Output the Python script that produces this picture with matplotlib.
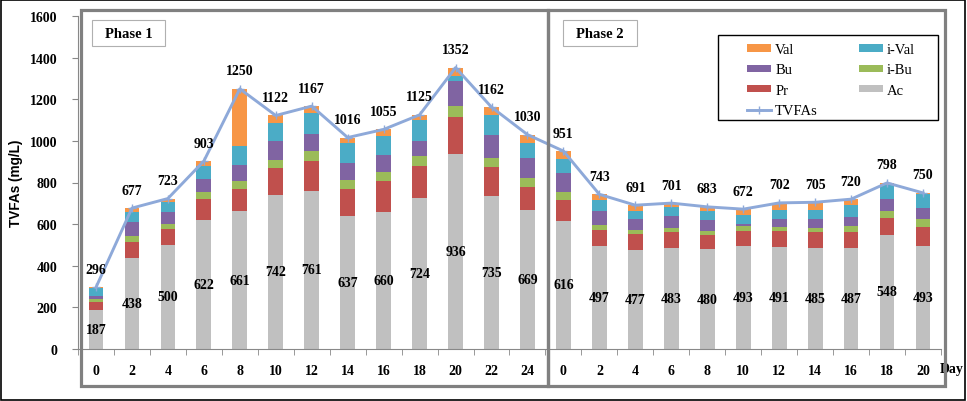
import matplotlib
matplotlib.use("Agg")
import matplotlib.pyplot as plt
import matplotlib.patches as patches
import numpy as np

# === DATA ===
phase1_days = [0, 2, 4, 6, 8, 10, 12, 14, 16, 18, 20, 22, 24]
phase2_days = [0, 2, 4, 6, 8, 10, 12, 14, 16, 18, 20]

ac = [187, 438, 500, 622, 661, 742, 761, 637, 660, 724, 936, 735, 669,
      616, 497, 477, 483, 480, 493, 491, 485, 487, 548, 493]
pr = [37, 77, 77, 98, 110, 127, 140, 131, 148, 156, 179, 140, 110,
      101, 77, 75, 77, 70, 75, 77, 78, 76, 81, 94]
ibu = [14, 29, 24, 32, 37, 40, 48, 43, 43, 45, 53, 45, 42,
       38, 22, 21, 19, 18, 21, 19, 19, 29, 35, 37]
bu = [16, 67, 56, 64, 75, 91, 86, 85, 80, 72, 120, 109, 96,
      93, 69, 54, 58, 53, 10, 40, 45, 40, 56, 53]
ival = [37, 45, 48, 64, 90, 85, 101, 93, 93, 104, 24, 94, 75,
        67, 51, 37, 43, 43, 45, 42, 42, 61, 67, 67]
val = [5, 21, 18, 23, 277, 37, 31, 27, 31, 24, 40, 39, 38,
       36, 27, 27, 21, 19, 28, 33, 36, 27, 11, 6]
tvfas = [296, 677, 723, 903, 1250, 1122, 1167, 1016, 1055, 1125, 1352, 1162, 1030,
         951, 743, 691, 701, 683, 672, 702, 705, 720, 798, 750]

# === STYLE ===
SERIF = "Liberation Serif"
C_AC = "#C0C0C0"
C_PR = "#C0504D"
C_IBU = "#9BBB59"
C_BU = "#8064A2"
C_IVAL = "#4BACC6"
C_VAL = "#F79646"
C_LINE = "#8EA9D9"

W, H = 967, 402
fig = plt.figure(figsize=(W / 100, H / 100), dpi=100)
fig.patch.set_facecolor("white")


def fx(px):
    return px / W


def fy(py):
    return 1 - py / H


ax = fig.add_axes([fx(78), fy(350), fx(941) - fx(78), fy(17) - fy(350)])

x = np.arange(len(ac))
bw = 0.41
series = [(ac, C_AC, "Ac"), (pr, C_PR, "Pr"), (ibu, C_IBU, "i-Bu"),
          (bu, C_BU, "Bu"), (ival, C_IVAL, "i-Val"), (val, C_VAL, "Val")]
bottom = np.zeros(len(ac))
bars = {}
for vals, col, name in series:
    bars[name] = ax.bar(x, vals, bw, bottom=bottom, color=col, zorder=2)
    bottom += np.array(vals)

line, = ax.plot(x, tvfas, color=C_LINE, lw=2.1, marker="+", ms=6, mew=1.0, zorder=3)

# value labels
for xi, a in zip(x, ac):
    ax.text(xi, a / 2, str(a), ha="center", va="center", fontsize=10,
            fontweight="bold", family=SERIF, zorder=4)
for xi, t in zip(x, tvfas):
    ax.annotate(str(t), (xi, t), xytext=(0, 13), textcoords="offset points",
                ha="center", va="center", fontsize=10, fontweight="bold",
                family=SERIF, zorder=4)

# axes
ax.set_xlim(-0.5, len(ac) - 0.5)
ax.set_ylim(0, 1600)
ax.set_yticks(range(0, 1601, 200))
ax.set_xticks(x)
ax.set_xticklabels([str(d) for d in phase1_days + phase2_days])
ax.set_xticks(np.arange(-0.5, len(ac), 1.0), minor=True)
ax.tick_params(axis="x", which="major", length=0, pad=11)
ax.tick_params(axis="x", which="minor", length=4, direction="out", color="#888888")
ax.tick_params(axis="y", length=4, direction="out", color="#888888", pad=11)
for lab in ax.get_xticklabels() + ax.get_yticklabels():
    lab.set_fontfamily(SERIF)
    lab.set_fontweight("bold")
    lab.set_fontsize(10)
for s in ["top", "right"]:
    ax.spines[s].set_visible(False)
for s in ["left", "bottom"]:
    ax.spines[s].set_color("#888888")
    ax.spines[s].set_linewidth(0.8)
ax.set_ylabel("TVFAs (mg/L)", family="Liberation Sans", fontweight="bold", fontsize=9.8)
ax.yaxis.set_label_coords((23 - 78) / (941 - 78), 0.5)

fig.text(fx(952), fy(370), "Day", ha="center", va="center", fontsize=10,
         fontweight="bold", family=SERIF)

# phase boxes
for x0, x1 in [(81, 548), (548, 945)]:
    fig.patches.append(patches.Rectangle((fx(x0), fy(387)), fx(x1) - fx(x0), fy(11) - fy(387),
                                         transform=fig.transFigure, fill=False,
                                         edgecolor="#808080", lw=2.3, zorder=5))
for (x0, x1), lab in [((92, 165), "Phase 1"), ((563, 637), "Phase 2")]:
    fig.patches.append(patches.Rectangle((fx(x0), fy(47)), fx(x1) - fx(x0), fy(21) - fy(47),
                                         transform=fig.transFigure, facecolor="white",
                                         edgecolor="#B0B0B0", lw=0.8, zorder=5))
    fig.text(fx((x0 + x1) / 2), fy(34), lab, ha="center", va="center", fontsize=10.5,
             fontweight="bold", family=SERIF, zorder=6)

# legend
fig.patches.append(patches.Rectangle((fx(718), fy(121)), fx(938) - fx(718), fy(36) - fy(121),
                                     transform=fig.transFigure, facecolor="white",
                                     edgecolor="black", lw=1.0, zorder=5))
handles = [bars["Val"], bars["Bu"], bars["Pr"], line,
           bars["i-Val"], bars["i-Bu"], bars["Ac"]]
labels = ["Val", "Bu", "Pr", "TVFAs", "i-Val", "i-Bu", "Ac"]
leg = fig.legend(handles, labels, ncol=2, loc="upper left",
                 bbox_to_anchor=(fx(737), fy(34)), frameon=False,
                 prop={"family": SERIF, "size": 10.5},
                 handlelength=1.65, handleheight=0.4, handletextpad=0.27,
                 columnspacing=2.8, labelspacing=0.5, borderpad=0.2)
leg.set_zorder(7)

# outer border
fig.patches.append(patches.Rectangle((0.001, 0.002), 0.997, 0.996, transform=fig.transFigure,
                                     fill=False, edgecolor="black", lw=1.2, zorder=8))

fig.savefig("out.png", dpi=100, facecolor="white")
